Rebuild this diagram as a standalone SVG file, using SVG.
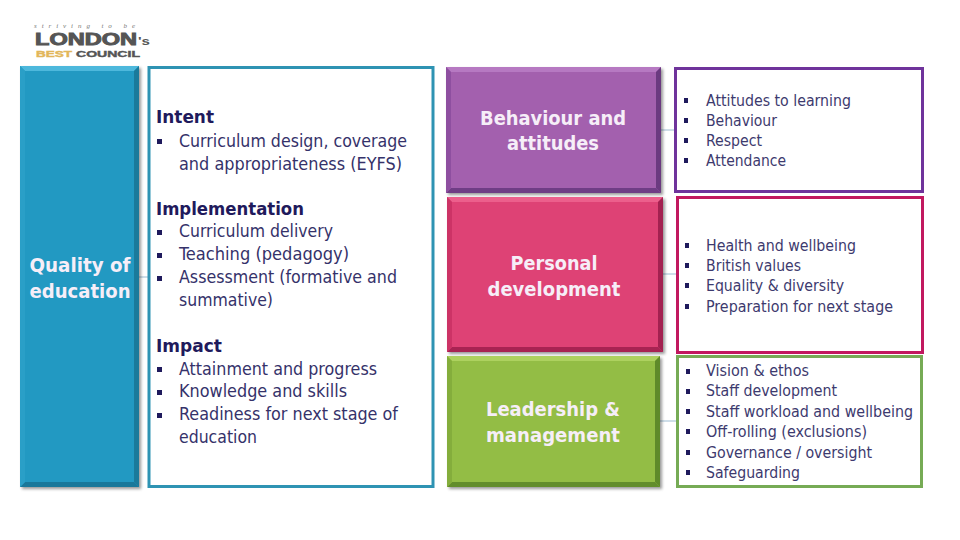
<svg xmlns="http://www.w3.org/2000/svg" width="960" height="540" viewBox="0 0 960 540">
<style>
text{font-family:"DejaVu Sans Condensed","DejaVu Sans","Noto Sans",sans-serif}
.h{font-size:18px;font-weight:700;fill:#1f1a5c}
.b{font-size:18px;fill:#35326a}
.s{font-size:16px;fill:#3d3a6e}
.t{font-size:20px;font-weight:700;fill:#f6eef8;text-anchor:middle}
.box{fill:#fff;stroke-width:3}
.c{stroke:#9dbcd2;stroke-width:1;fill:none}
.sq{fill:#1f1a5c}
.logo{font-family:"Liberation Sans",Arial,sans-serif;font-weight:700}
</style>
<defs>
<filter id="sh" x="-5%" y="-5%" width="112%" height="112%"><feDropShadow dx="2" dy="2" stdDeviation="1.500" flood-color="#000" flood-opacity=".4"/></filter>
</defs>
<rect width="960" height="540" fill="#fff"/>
<g id="logo">
<text x="34" y="28" font-size="7" font-style="italic" fill="#777" style="font-family:'Liberation Serif',serif" textLength="101" lengthAdjust="spacing">striving to be</text>
<text class="logo" x="35" y="45" font-size="16" fill="#555" stroke="#555" stroke-width=".9" textLength="102" lengthAdjust="spacingAndGlyphs">LONDON</text>
<text class="logo" x="138" y="45" font-size="11" fill="#555" textLength="12" lengthAdjust="spacingAndGlyphs">'s</text>
<text class="logo" x="36" y="56.500" font-size="8.500" fill="#e2b65a" stroke="#e2b65a" stroke-width=".4" textLength="36" lengthAdjust="spacingAndGlyphs">BEST</text>
<text class="logo" x="76" y="56.500" font-size="8.500" fill="#555" stroke="#555" stroke-width=".4" textLength="64" lengthAdjust="spacingAndGlyphs">COUNCIL</text>
</g>
<g id="connectors">
<path class="c" d="M138 277H149M660 130H676M662 274H677M659 421H677"/>
</g>
<g id="quality-of-education">
<g filter="url(#sh)"><rect x="20" y="66" width="119" height="421" fill="#2299c2"/></g>
<polygon points="20,66 139,66 134,71 25,71" fill="#4db8dc"/>
<polygon points="139,66 139,487 134,482 134,71" fill="#1a7a9b"/>
<polygon points="20,487 139,487 134,482 25,482" fill="#19789a"/>
<polygon points="20,66 25,71 25,482 20,487" fill="#2a9fc7"/>
<text class="t" x="80" y="272" textLength="101" lengthAdjust="spacingAndGlyphs">Quality of</text>
<text class="t" x="80" y="298" textLength="101" lengthAdjust="spacingAndGlyphs">education</text>
</g>
<g id="quality-detail">
<rect class="box" x="149" y="67.500" width="284" height="419" stroke="#2e93b3"/>
<text class="h" x="156" y="123" textLength="58" lengthAdjust="spacingAndGlyphs">Intent</text>
<rect class="sq" x="157" y="139" width="5" height="5"/>
<text class="b" x="179" y="147" textLength="228" lengthAdjust="spacingAndGlyphs">Curriculum design, coverage</text>
<text class="b" x="179" y="170" textLength="223" lengthAdjust="spacingAndGlyphs">and appropriateness (EYFS)</text>
<text class="h" x="156" y="215" textLength="148" lengthAdjust="spacingAndGlyphs">Implementation</text>
<rect class="sq" x="157" y="230" width="5" height="5"/>
<text class="b" x="179" y="237" textLength="154" lengthAdjust="spacingAndGlyphs">Curriculum delivery</text>
<rect class="sq" x="157" y="253" width="5" height="5"/>
<text class="b" x="179" y="260" textLength="170" lengthAdjust="spacingAndGlyphs">Teaching (pedagogy)</text>
<rect class="sq" x="157" y="276" width="5" height="5"/>
<text class="b" x="179" y="283" textLength="218" lengthAdjust="spacingAndGlyphs">Assessment (formative and</text>
<text class="b" x="179" y="306" textLength="94" lengthAdjust="spacingAndGlyphs">summative)</text>
<text class="h" x="156" y="352" textLength="66" lengthAdjust="spacingAndGlyphs">Impact</text>
<rect class="sq" x="157" y="367" width="5" height="5"/>
<text class="b" x="179" y="375" textLength="198" lengthAdjust="spacingAndGlyphs">Attainment and progress</text>
<rect class="sq" x="157" y="390" width="5" height="5"/>
<text class="b" x="179" y="397" textLength="168" lengthAdjust="spacingAndGlyphs">Knowledge and skills</text>
<rect class="sq" x="157" y="413" width="5" height="5"/>
<text class="b" x="179" y="420" textLength="219" lengthAdjust="spacingAndGlyphs">Readiness for next stage of</text>
<text class="b" x="179" y="443" textLength="78" lengthAdjust="spacingAndGlyphs">education</text>
</g>
<g id="behaviour-and-attitudes">
<g filter="url(#sh)"><rect x="446" y="67" width="215" height="126" fill="#a360ae"/></g>
<polygon points="446,67 661,67 656,72 451,72" fill="#b679c2"/>
<polygon points="661,67 661,193 656,188 656,72" fill="#6b3a80"/>
<polygon points="446,193 661,193 656,188 451,188" fill="#6f3d85"/>
<polygon points="446,67 451,72 451,188 446,193" fill="#8e4fa0"/>
<text class="t" x="553" y="125" textLength="146" lengthAdjust="spacingAndGlyphs">Behaviour and</text>
<text class="t" x="553" y="150" textLength="92" lengthAdjust="spacingAndGlyphs">attitudes</text>
</g>
<g id="behaviour-detail">
<rect class="box" x="675.500" y="68.500" width="247" height="123" stroke="#6f339b"/>
<rect class="sq" x="684" y="98" width="4" height="5"/>
<text class="s" x="706" y="106" textLength="145" lengthAdjust="spacingAndGlyphs">Attitudes to learning</text>
<rect class="sq" x="684" y="118" width="4" height="5"/>
<text class="s" x="706" y="126" textLength="71" lengthAdjust="spacingAndGlyphs">Behaviour</text>
<rect class="sq" x="684" y="138" width="4" height="5"/>
<text class="s" x="706" y="146" textLength="56" lengthAdjust="spacingAndGlyphs">Respect</text>
<rect class="sq" x="684" y="158" width="4" height="5"/>
<text class="s" x="706" y="166" textLength="80" lengthAdjust="spacingAndGlyphs">Attendance</text>
</g>
<g id="personal-development">
<g filter="url(#sh)"><rect x="447" y="197" width="216" height="155" fill="#de4274"/></g>
<polygon points="447,197 663,197 658,202 452,202" fill="#ec5f8c"/>
<polygon points="663,197 663,352 658,347 658,202" fill="#a32150"/>
<polygon points="447,352 663,352 658,347 452,347" fill="#a82352"/>
<polygon points="447,197 452,202 452,347 447,352" fill="#cc3366"/>
<text class="t" x="554" y="270" textLength="87" lengthAdjust="spacingAndGlyphs">Personal</text>
<text class="t" x="554" y="296" textLength="133" lengthAdjust="spacingAndGlyphs">development</text>
</g>
<g id="personal-detail">
<rect class="box" x="677.500" y="197.500" width="245" height="155" stroke="#c1185f"/>
<rect class="sq" x="685" y="243" width="4" height="5"/>
<text class="s" x="706" y="251" textLength="150" lengthAdjust="spacingAndGlyphs">Health and wellbeing</text>
<rect class="sq" x="685" y="263" width="4" height="5"/>
<text class="s" x="706" y="271" textLength="95" lengthAdjust="spacingAndGlyphs">British values</text>
<rect class="sq" x="685" y="283" width="4" height="5"/>
<text class="s" x="706" y="291" textLength="138" lengthAdjust="spacingAndGlyphs">Equality &amp; diversity</text>
<rect class="sq" x="685" y="304" width="4" height="5"/>
<text class="s" x="706" y="312" textLength="187" lengthAdjust="spacingAndGlyphs">Preparation for next stage</text>
</g>
<g id="leadership-and-management">
<g filter="url(#sh)"><rect x="447" y="356" width="213" height="131" fill="#93bd45"/></g>
<polygon points="447,356 660,356 655,361 452,361" fill="#add15f"/>
<polygon points="660,356 660,487 655,482 655,361" fill="#5f8a2a"/>
<polygon points="447,487 660,487 655,482 452,482" fill="#628d2c"/>
<polygon points="447,356 452,361 452,482 447,487" fill="#84ad3c"/>
<text class="t" x="553" y="416" textLength="134" lengthAdjust="spacingAndGlyphs">Leadership &amp;</text>
<text class="t" x="553" y="442" textLength="134" lengthAdjust="spacingAndGlyphs">management</text>
</g>
<g id="leadership-detail">
<rect class="box" x="677.500" y="356.500" width="244" height="130" stroke="#76ab55"/>
<rect class="sq" x="686" y="369" width="4" height="5"/>
<text class="s" x="706" y="376" textLength="103" lengthAdjust="spacingAndGlyphs">Vision &amp; ethos</text>
<rect class="sq" x="686" y="389" width="4" height="5"/>
<text class="s" x="706" y="396" textLength="131" lengthAdjust="spacingAndGlyphs">Staff development</text>
<rect class="sq" x="686" y="409" width="4" height="5"/>
<text class="s" x="706" y="417" textLength="207" lengthAdjust="spacingAndGlyphs">Staff workload and wellbeing</text>
<rect class="sq" x="686" y="429" width="4" height="5"/>
<text class="s" x="706" y="437" textLength="161" lengthAdjust="spacingAndGlyphs">Off-rolling (exclusions)</text>
<rect class="sq" x="686" y="450" width="4" height="5"/>
<text class="s" x="706" y="458" textLength="166" lengthAdjust="spacingAndGlyphs">Governance / oversight</text>
<rect class="sq" x="686" y="470" width="4" height="5"/>
<text class="s" x="706" y="478" textLength="94" lengthAdjust="spacingAndGlyphs">Safeguarding</text>
</g>
</svg>
